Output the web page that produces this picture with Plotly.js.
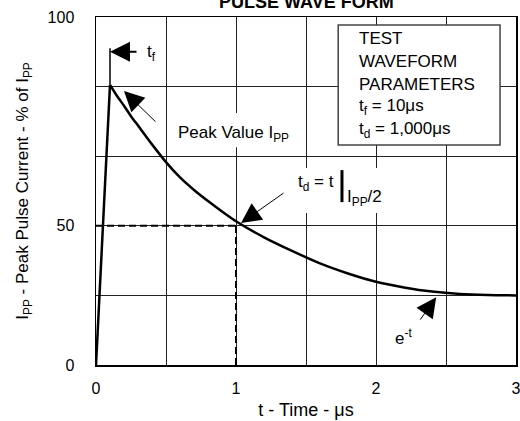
<!DOCTYPE html>
<html>
<head>
<meta charset="utf-8">
<script src="https://cdn.plot.ly/plotly-3.0.1.min.js"></script>
<style>html,body{margin:0;padding:0;background:#fff;}#chart{width:520px;height:421px;}</style>
</head>
<body>
<div id="chart"></div>
<script>
// ---- data ----
const riseTime = [0, 0.1];
const riseCurrent = [0, 80.5];
const decayTime = [0.1, 0.15, 0.2, 0.25, 0.3, 0.4, 0.5, 0.6, 0.7, 0.8, 0.9, 1.0, 1.2, 1.4, 1.6, 1.8, 2.0, 2.2, 2.4, 2.6, 2.8, 3.0];
const decayCurrent = [80.5, 77.3, 74.5, 71.5, 68.8, 63.4, 58.3, 53.9, 50.3, 47.1, 44.1, 41.3, 36.7, 32.8, 29.2, 26.3, 23.9, 22.3, 21.1, 20.4, 20.1, 20];
const halfTime = 1;        // t_d
const halfCurrent = 40;    // I_PP/2 level (as drawn)
const xTickVals = [0, 1, 2, 3];
const xTickText = ['0', '1', '2', '3'];
const xMinorGrid = [0.5, 1.5, 2.5];
const yTickVals = [0, 40, 100];
const yTickText = ['0', '50', '100'];
const yMinorGrid = [20, 60, 80];
const paramLines = ['TEST', 'WAVEFORM', 'PARAMETERS', 't<sub>f</sub> = 10μs', 't<sub>d</sub> = 1,000μs'];

const FONT = 'Liberation Sans, Arial, Helvetica, sans-serif';
const black = '#000';
const gridC = '#222';

const traces = [
  {x: riseTime, y: riseCurrent, mode: 'lines', line: {color: black, width: 2.5}, hoverinfo: 'skip'},
  {x: decayTime, y: decayCurrent, mode: 'lines', line: {color: black, width: 2.5, shape: 'spline', smoothing: 0.6}, hoverinfo: 'skip'},
  {x: [0, halfTime], y: [halfCurrent, halfCurrent], mode: 'lines', line: {color: black, width: 2, dash: '7px,4px'}, hoverinfo: 'skip'},
  {x: [halfTime, halfTime], y: [0, halfCurrent], mode: 'lines', line: {color: black, width: 2, dash: '7px,4px'}, hoverinfo: 'skip'}
];

const paramY = [93.8, 87.2, 80.7, 74.0, 67.6];
const annotations = [
  {xref: 'paper', yref: 'paper', x: 0.5, y: 1, yshift: 15, yanchor: 'middle', showarrow: false,
   text: '<b>PULSE WAVE FORM</b>', font: {family: FONT, size: 18, color: black}},
  // t_f
  {x: riseTime[1], y: 90, axref: 'pixel', ayref: 'pixel', ax: 28, ay: 0, text: '', showarrow: true,
   arrowhead: 2, arrowsize: 2, arrowwidth: 2, arrowcolor: black},
  {x: 0.35, y: 89.8, xanchor: 'left', yanchor: 'middle', showarrow: false, text: 't<sub>f</sub>',
   font: {family: FONT, size: 17, color: black}},
  // peak value
  {x: 0.2, y: 78.7, ax: 33, ay: 32, text: '', showarrow: true, arrowhead: 2, arrowsize: 4, arrowwidth: 1, arrowcolor: black},
  {x: 0.571, y: 66.5, xanchor: 'left', yanchor: 'middle', showarrow: false, text: 'Peak Value I<sub>PP</sub>',
   font: {family: FONT, size: 17, color: black}},
  // t_d
  {x: 1.036, y: 40.8, ax: 44, ay: -31, text: '', showarrow: true, arrowhead: 2, arrowsize: 4, arrowwidth: 1, arrowcolor: black},
  {x: 1.425, y: 52.2, xanchor: 'left', yanchor: 'middle', showarrow: false, text: 't<sub>d</sub> = t',
   font: {family: FONT, size: 17, color: black}},
  {x: 1.78, y: 48.0, xanchor: 'left', yanchor: 'middle', showarrow: false, text: 'I<sub>PP</sub>/2',
   font: {family: FONT, size: 17, color: black}},
  // e^-t
  {x: 2.43, y: 19.5, ax: -17, ay: 24, text: '', showarrow: true, arrowhead: 2, arrowsize: 4, arrowwidth: 1, arrowcolor: black},
  {x: 2.121, y: 8.0, xanchor: 'left', yanchor: 'middle', showarrow: false, text: 'e<sup>-t</sup>',
   font: {family: FONT, size: 17, color: black}}
];
paramLines.forEach((t, i) => annotations.push({
  x: 1.864, y: paramY[i], xanchor: 'left', yanchor: 'middle', showarrow: false, text: t,
  font: {family: FONT, size: 17, color: black}
}));

const shapes = [
  // white patches behind labels (gridlines broken there)
  {type: 'rect', layer: 'between', x0: 0.53, x1: 1.42, y0: 62.6, y1: 72.4, fillcolor: '#fff', line: {width: 0}},
  {type: 'rect', layer: 'between', x0: 1.386, x1: 2.064, y0: 43.7, y1: 56.6, fillcolor: '#fff', line: {width: 0}},
  // parameter box
  {type: 'rect', layer: 'between', x0: 1.73, x1: 2.886, y0: 63.2, y1: 97.7, fillcolor: '#fff', line: {color: '#444', width: 1.5}},
  // t_f marker
  {type: 'line', x0: riseTime[1], x1: riseTime[1], y0: riseCurrent[1], y1: 91, line: {color: black, width: 1.5}},
  // evaluation bar
  {type: 'line', x0: 1.757, x1: 1.757, y0: 46.8, y1: 56, line: {color: black, width: 3}}
];

const layout = {
  width: 520, height: 421,
  margin: {l: 96, r: 4, t: 17, b: 56, pad: 0},
  paper_bgcolor: '#fff', plot_bgcolor: '#fff',
  showlegend: false,
  font: {family: FONT, color: black},
  xaxis: {
    range: [0, 3], tickmode: 'array', tickvals: xTickVals, ticktext: xTickText, ticks: '', ticklabelstandoff: 8,
    ticklabeloverflow: 'allow',
    tickfont: {family: FONT, size: 16, color: black},
    showgrid: true, gridcolor: gridC, gridwidth: 1, zeroline: false,
    minor: {tickmode: 'array', tickvals: xMinorGrid, showgrid: true, gridcolor: gridC, gridwidth: 1, ticks: ''},
    showline: true, linecolor: black, linewidth: 1.5, mirror: true,
    title: {text: 't - Time - μs', font: {family: FONT, size: 18, color: black}, standoff: 7}
  },
  yaxis: {
    range: [0, 100], tickmode: 'array', tickvals: yTickVals, ticktext: yTickText, ticks: '', ticklabelstandoff: 17,
    ticklabeloverflow: 'allow',
    tickfont: {family: FONT, size: 16, color: black},
    showgrid: true, gridcolor: gridC, gridwidth: 1, zeroline: false,
    minor: {tickmode: 'array', tickvals: yMinorGrid, showgrid: true, gridcolor: gridC, gridwidth: 1, ticks: ''},
    showline: true, linecolor: black, linewidth: 1.5, mirror: true,
    title: {text: 'I<sub>PP</sub> - Peak Pulse Current - % of I<sub>PP</sub>', font: {family: FONT, size: 17, color: black}, standoff: 14}
  },
  annotations: annotations,
  shapes: shapes
};

Plotly.newPlot('chart', traces, layout, {staticPlot: true, displayModeBar: false});
</script>
</body>
</html>
